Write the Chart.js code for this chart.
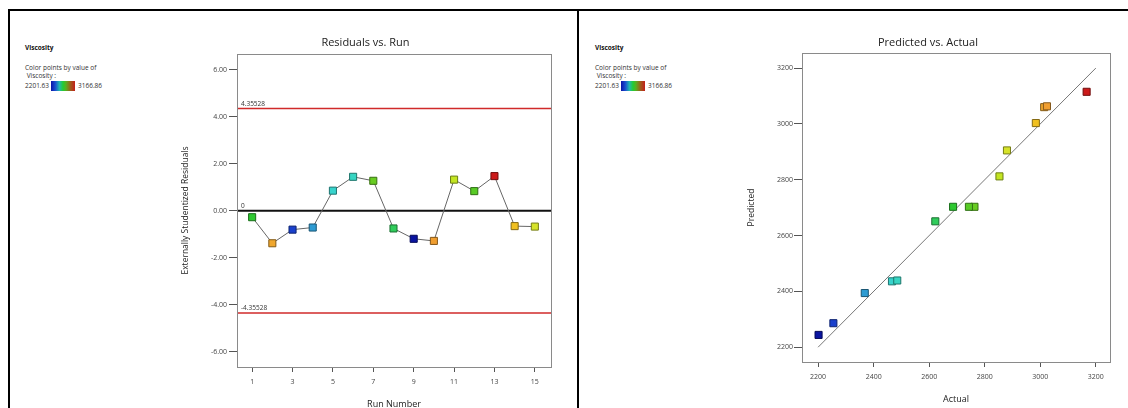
<!DOCTYPE html>
<html>
<head>
<meta charset="utf-8">
<script src="https://cdn.jsdelivr.net/npm/chart.js@4.4.1/dist/chart.umd.min.js"></script>
<style>
  html, body { margin: 0; padding: 0; background: #fff; }
  body { width: 1128px; height: 408px; position: relative; overflow: hidden; font-family: "Open Sans", sans-serif; }
  .rule { position: absolute; background: #000; }
  .legend { position: absolute; color: #333; font-size: 6.5px; line-height: 8px; }
  .legend .head { font-weight: bold; color: #111; margin-bottom: 12px; }
  .legend .scale { display: flex; align-items: center; margin-top: 1px; }
  .legend .bar { width: 24px; height: 10px; margin: 0 3px 0 2px;
    background: linear-gradient(to right, #0a14a8 0%, #1a4fd0 18%, #22b8b0 35%, #22cc33 50%, #55b020 62%, #a05a1c 82%, #c41e1a 100%); }
  .panel { position: absolute; }
</style>
</head>
<body>
<div class="rule" style="left:8px; top:9px; width:1120px; height:2px;"></div>
<div class="rule" style="left:8px; top:9px; width:2px; height:399px;"></div>
<div class="rule" style="left:577px; top:9px; width:2px; height:399px;"></div>

<div class="legend" style="left:25px; top:44px;">
  <div class="head">Viscosity</div>
  <div>Color points by value of</div>
  <div>&nbsp;Viscosity :</div>
  <div class="scale"><span>2201.63</span><span class="bar"></span><span>3166.86</span></div>
</div>
<div class="legend" style="left:595px; top:44px;">
  <div class="head">Viscosity</div>
  <div>Color points by value of</div>
  <div>&nbsp;Viscosity :</div>
  <div class="scale"><span>2201.63</span><span class="bar"></span><span>3166.86</span></div>
</div>

<div class="panel" style="left:180px; top:12px; width:396px; height:396px;"><canvas id="resid"></canvas></div>
<div class="panel" style="left:580px; top:12px; width:548px; height:396px;"><canvas id="pva"></canvas></div>

<script>
// Runs in run order
const runs = [1, 2, 3, 4, 5, 6, 7, 8, 9, 10, 11, 12, 13, 14, 15];
// Measured viscosity (actual) per run
const viscosity = [2686, 3014, 2255, 2368, 2466, 2485, 2763, 2622, 2201.63, 3024, 2853, 2743, 3166.86, 2984, 2880];
// Model prediction per run
const predicted = [2703, 3060, 2286, 2394, 2436, 2439, 2703, 2651, 2244, 3063, 2812, 2703, 3115, 3003, 2905];
// Externally studentized residuals per run
const residuals = [-0.27, -1.38, -0.80, -0.71, 0.86, 1.45, 1.28, -0.75, -1.19, -1.28, 1.33, 0.84, 1.48, -0.65, -0.67];
// Outlier limits and the zero line
const residLimits = [4.35528, -4.35528];
const residCenter = 0;
// Color range of the viscosity scale
const colorMin = 2201.63;
const colorMax = 3166.86;
// Tick labels
const runTicks = [1, 3, 5, 7, 9, 11, 13, 15];
const residTicks = [-6, -4, -2, 0, 2, 4, 6];
const pvaTicks = [2200, 2400, 2600, 2800, 3000, 3200];
// 45-degree reference line endpoints
const diagonal = [2200, 3200];

const FONT = '"Open Sans", sans-serif';

// Blue -> cyan -> green -> yellow -> orange -> red color map
const stops = [
  [0.00, [10, 20, 160]], [0.055, [26, 64, 204]], [0.17, [46, 154, 210]],
  [0.28, [56, 214, 204]], [0.44, [48, 204, 88]], [0.50, [44, 200, 48]],
  [0.58, [102, 204, 34]], [0.68, [200, 230, 34]], [0.72, [224, 224, 48]],
  [0.81, [240, 192, 32]], [0.85, [240, 160, 48]], [1.00, [204, 26, 26]]
];
function colorFor(v, k = 1) {
  const t = Math.max(0, Math.min(1, (v - colorMin) / (colorMax - colorMin)));
  let i = 0;
  while (i < stops.length - 2 && t > stops[i + 1][0]) i++;
  const [t0, c0] = stops[i], [t1, c1] = stops[i + 1];
  const f = (t - t0) / (t1 - t0);
  const c = c0.map((a, j) => Math.round((a + (c1[j] - a) * f) * k));
  return `rgb(${c[0]},${c[1]},${c[2]})`;
}
const fills = viscosity.map(v => colorFor(v));
const edges = viscosity.map(v => colorFor(v, 0.55));

// Gray frame around the plotting area
const framePlugin = {
  id: 'frame',
  afterDraw(chart) {
    const { ctx, chartArea: a } = chart;
    ctx.save();
    ctx.strokeStyle = '#8a8a8a';
    ctx.lineWidth = 1;
    ctx.strokeRect(Math.round(a.left) + 0.5, Math.round(a.top) + 0.5, Math.round(a.right - a.left), Math.round(a.bottom - a.top));
    ctx.restore();
  }
};

// Horizontal limit lines with their value labels
const limitPlugin = {
  id: 'limits',
  beforeDatasetsDraw(chart) {
    const { ctx, chartArea: a, scales: { y } } = chart;
    const lines = [
      { v: residLimits[0], color: '#d02a2a', w: 1.5 },
      { v: residCenter, color: '#111', w: 2 },
      { v: residLimits[1], color: '#d02a2a', w: 1.5 }
    ];
    ctx.save();
    for (const l of lines) {
      const py = y.getPixelForValue(l.v);
      ctx.strokeStyle = l.color;
      ctx.lineWidth = l.w;
      ctx.beginPath();
      ctx.moveTo(a.left, py);
      ctx.lineTo(a.right, py);
      ctx.stroke();
      ctx.fillStyle = '#333';
      ctx.font = '6.5px ' + FONT;
      ctx.textBaseline = 'bottom';
      ctx.textAlign = 'left';
      ctx.fillText(String(l.v), a.left + 4, py - 1.5);
    }
    ctx.restore();
  }
};

const tickFont = { family: FONT, size: 7 };
const tickColor = '#444';

new Chart(document.getElementById('resid'), {
  type: 'scatter',
  data: {
    datasets: [{
      data: runs.map((r, i) => ({ x: r, y: residuals[i] })),
      showLine: true,
      borderColor: '#666',
      borderWidth: 1,
      pointStyle: 'rect',
      pointRadius: 5,
      pointBackgroundColor: fills,
      pointBorderColor: edges,
      pointBorderWidth: 1
    }]
  },
  options: {
    responsive: true,
    maintainAspectRatio: false,
    animation: false,
    events: [],
    layout: { padding: { left: 0, right: 25, top: 0, bottom: 0 } },
    plugins: {
      legend: { display: false },
      tooltip: { enabled: false },
      title: {
        display: true, text: 'Residuals vs. Run', color: '#222',
        font: { family: FONT, size: 11, weight: 'normal' },
        padding: { top: 24, bottom: 4.8 }
      }
    },
    scales: {
      x: {
        type: 'linear', min: 0.25, max: 15.8,
        afterBuildTicks: s => { s.ticks = runTicks.map(v => ({ value: v })); },
        afterFit: s => { s.height = 41; },
        grid: { drawOnChartArea: false, tickLength: 5, color: '#555' },
        border: { display: false },
        ticks: { font: tickFont, color: tickColor, padding: 6, maxRotation: 0, callback: v => String(v) },
        title: { display: true, text: 'Run Number', color: '#222', font: { family: FONT, size: 9 }, padding: { top: 0, bottom: -2 } }
      },
      y: {
        type: 'linear', min: -6.65, max: 6.68,
        afterBuildTicks: s => { s.ticks = residTicks.map(v => ({ value: v })); },
        afterFit: s => { s.width = 57; },
        grid: { drawOnChartArea: false, tickLength: 8, color: '#555' },
        border: { display: false },
        ticks: { font: tickFont, color: tickColor, padding: 2, callback: v => v.toFixed(2) },
        title: { display: true, text: 'Externally Studentized Residuals', color: '#222', font: { family: FONT, size: 8.5 }, padding: 0 }
      }
    }
  },
  plugins: [framePlugin, limitPlugin]
});

new Chart(document.getElementById('pva'), {
  type: 'scatter',
  data: {
    datasets: [
      {
        data: viscosity.map((v, i) => ({ x: v, y: predicted[i] })),
        pointStyle: 'rect',
        pointRadius: 5,
        pointBackgroundColor: fills,
        pointBorderColor: edges,
        pointBorderWidth: 1
      },
      {
        data: diagonal.map(v => ({ x: v, y: v })),
        showLine: true,
        borderColor: '#777',
        borderWidth: 1,
        pointRadius: 0
      }
    ]
  },
  options: {
    responsive: true,
    maintainAspectRatio: false,
    animation: false,
    events: [],
    layout: { padding: { left: 166, right: 18, top: 0, bottom: 0 } },
    plugins: {
      legend: { display: false },
      tooltip: { enabled: false },
      title: {
        display: true, text: 'Predicted vs. Actual', color: '#222',
        font: { family: FONT, size: 11, weight: 'normal' },
        padding: { top: 24, bottom: 3.8 }
      }
    },
    scales: {
      x: {
        type: 'linear', min: 2142, max: 3251,
        afterBuildTicks: s => { s.ticks = pvaTicks.map(v => ({ value: v })); },
        afterFit: s => { s.height = 46; },
        grid: { drawOnChartArea: false, tickLength: 5, color: '#555' },
        border: { display: false },
        ticks: { font: tickFont, color: tickColor, padding: 6, maxRotation: 0, callback: v => String(v) },
        title: { display: true, text: 'Actual', color: '#222', font: { family: FONT, size: 9 }, padding: { top: 0, bottom: 3.6 } }
      },
      y: {
        type: 'linear', min: 2147, max: 3254,
        afterBuildTicks: s => { s.ticks = pvaTicks.map(v => ({ value: v })); },
        afterFit: s => { s.width = 56; },
        grid: { drawOnChartArea: false, tickLength: 8, color: '#555' },
        border: { display: false },
        ticks: { font: tickFont, color: tickColor, padding: 1, callback: v => String(v) },
        title: { display: true, text: 'Predicted', color: '#222', font: { family: FONT, size: 8.5 }, padding: 0 }
      }
    }
  },
  plugins: [framePlugin]
});
</script>
</body>
</html>
